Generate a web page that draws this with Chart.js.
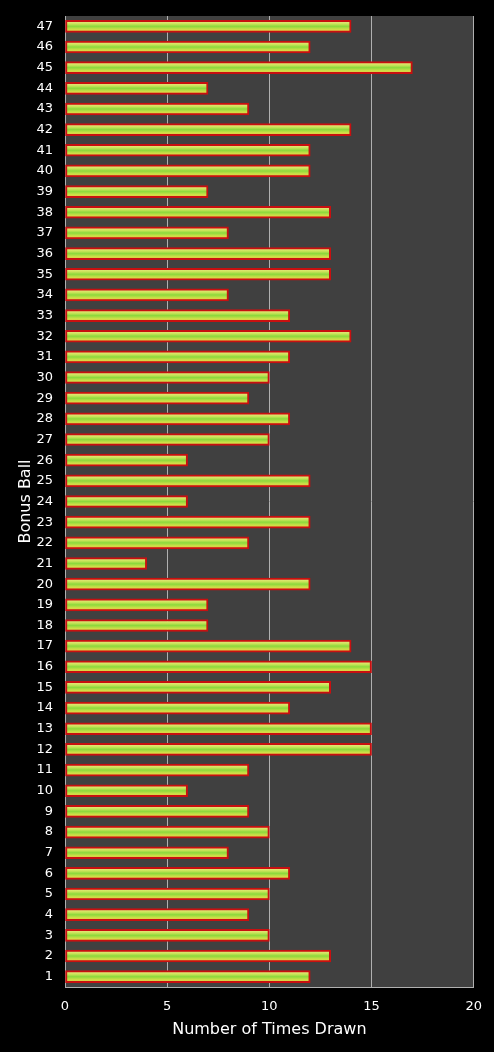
<!DOCTYPE html>
<html>
<head>
<meta charset="utf-8">
<script src="https://cdn.jsdelivr.net/npm/chart.js@4"></script>
<style>
  html, body { margin: 0; padding: 0; background: #000; }
  #wrap { width: 494px; height: 1052px; }
</style>
</head>
<body>
<div id="wrap"><canvas id="ballChart"></canvas></div>
<script>
const balls = [];
for (let i = 1; i <= 47; i++) balls.push(String(i));

// times drawn for balls 1..47
const timesDrawn = [
  12, 13, 10, 9, 10, 11, 8, 10, 9, 6,
  9, 15, 15, 11, 13, 15, 14, 7, 7, 12,
  4, 9, 12, 6, 12, 6, 10, 11, 9, 10,
  11, 14, 11, 8, 13, 13, 8, 13, 7, 12,
  12, 14, 9, 7, 17, 12, 14
];

const xTicks = [0, 5, 10, 15, 20];

const plotBackground = {
    id: 'plotBackground',
    beforeDraw(chart) {
        const { ctx, chartArea } = chart;
        ctx.save();
        ctx.fillStyle = '#404040';
        ctx.fillRect(chartArea.left, chartArea.top, chartArea.right - chartArea.left, chartArea.bottom - chartArea.top);
        ctx.restore();
    }
};

function barFill(context) {
    const chart = context.chart;
    const yScale = chart.scales.y;
    if (!yScale || yScale.top === undefined) return '#9ad040';
    const yc = yScale.getPixelForValue(context.dataIndex);
    if (!isFinite(yc)) return '#9ad040';
    const g = chart.ctx.createLinearGradient(0, yc - 6, 0, yc + 6);
    g.addColorStop(0, '#fae890');
    g.addColorStop(0.3, '#c8e458');
    g.addColorStop(0.5, '#8cd83c');
    g.addColorStop(0.75, '#cce048');
    g.addColorStop(1, '#f4b840');
    return g;
}

const ctx = document.getElementById('ballChart').getContext('2d');
new Chart(ctx, {
    type: 'bar',
    data: {
        labels: balls,
        datasets: [{
            data: timesDrawn,
            backgroundColor: barFill,
            borderColor: '#c81010',
            borderWidth: 2,
            borderSkipped: false,
            barThickness: 12
        }]
    },
    options: {
        indexAxis: 'y',
        responsive: true,
        maintainAspectRatio: false,
        animation: false,
        layout: { padding: { top: 16, right: 20, bottom: 13, left: 16 } },
        plugins: {
            legend: { display: false },
            tooltip: { enabled: false }
        },
        scales: {
            x: {
                min: 0,
                max: 20,
                afterBuildTicks: (axis) => { axis.ticks = xTicks.map(v => ({ value: v })); },
                afterFit: (axis) => { axis.height = 52; },
                ticks: {
                    color: '#fff',
                    font: { family: 'DejaVu Sans', size: 13 },
                    padding: 12
                },
                grid: { color: '#b0b0b0', lineWidth: 1, drawTicks: false },
                border: { color: '#b0b0b0', width: 1 },
                title: {
                    display: true,
                    text: 'Number of Times Drawn',
                    color: '#fff',
                    font: { family: 'DejaVu Sans', size: 16 },
                    padding: { top: 0, bottom: 0 }
                }
            },
            y: {
                reverse: true,
                afterFit: (axis) => {
                    axis.width = 49;
                    axis.paddingTop = 0;
                    axis.paddingBottom = 0;
                },
                ticks: {
                    color: '#fff',
                    font: { family: 'DejaVu Sans', size: 13 },
                    padding: 12,
                    autoSkip: false
                },
                grid: { display: false, drawTicks: false },
                border: { color: '#b0b0b0', width: 1 },
                title: {
                    display: true,
                    text: 'Bonus Ball',
                    color: '#fff',
                    font: { family: 'DejaVu Sans', size: 16 },
                    padding: { top: 0, bottom: 0 }
                }
            }
        }
    },
    plugins: [plotBackground]
});
</script>
</body>
</html>
